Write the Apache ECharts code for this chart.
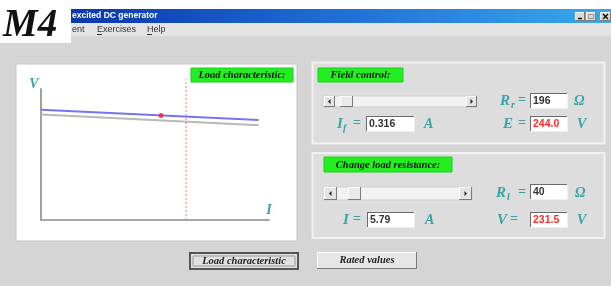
<!DOCTYPE html>
<html><head><meta charset="utf-8">
<script src="https://cdn.jsdelivr.net/npm/echarts@6/dist/echarts.min.js"></script>
<style>html,body{margin:0;padding:0;background:#fff}#c{width:611px;height:286px}</style>
</head><body><div id="c"></div>
<script>
// ---- data ----
const loadCurrent = [0, 10.5];          // I (A)
const loadVoltage = [244, 221.3];       // V (V) present load characteristic
const ratedCurrentPts = [0, 10.5];
const ratedVoltage = [233.5, 209.5];    // rated characteristic
const opPointI = [5.79];
const opPointV = [231.5];
const ratedCurrent = 7;
const ratedLineV = [0, 312];
const xMax = 11, yMax = 290;
const windowTitle = 'excited DC generator';
const menuItems = ['ent', 'Exercises', 'Help'];
const fieldValues = { Rr: '196', If: '0.316', E: '244.0' };
const loadValues = { Rl: '40', I: '5.79', V: '231.5' };
const buttonLabels = ['Load characteristic', 'Rated values'];

// ---- drawing helpers ----
const els = [];
const SER = '"Liberation Serif", "DejaVu Serif", serif';
const SANS = '"Liberation Sans", "DejaVu Sans", sans-serif';
const TEAL = '#37a4a6';
function rect(x, y, w, h, fill, stroke, lw, z) {
  els.push({type: 'rect', z: z == null ? -5 : z, shape: {x, y, width: w, height: h},
    style: {fill: fill, stroke: stroke || null, lineWidth: lw || 0}});
}
function line(x1, y1, x2, y2, stroke, lw, z) {
  els.push({type: 'line', z: z == null ? -4 : z, shape: {x1, y1, x2, y2}, style: {stroke, lineWidth: lw || 1}});
}
function txt(s, x, y, font, fill, align, z) {
  els.push({type: 'text', z: z == null ? 10 : z, x, y,
    style: {text: s, font, fill, align: align || 'left', verticalAlign: 'middle'}});
}
function raised(x, y, w, h, fill) {
  rect(x, y, w, h, fill || '#e4e4e4', null, 0, -3);
  line(x + 0.5, y + 0.5, x + w - 0.5, y + 0.5, '#ffffff', 1, -2);
  line(x + 0.5, y + 0.5, x + 0.5, y + h - 0.5, '#ffffff', 1, -2);
  line(x, y + h - 0.5, x + w, y + h - 0.5, '#7a7a7a', 1, -2);
  line(x + w - 0.5, y, x + w - 0.5, y + h, '#7a7a7a', 1, -2);
}
function tbox(x, y, w, h, val, color) {
  rect(x, y, w, h, '#ffffff', null, 0, -3);
  line(x, y + 0.5, x + w, y + 0.5, '#6a6a6a', 1, -2);
  line(x + 0.5, y, x + 0.5, y + h, '#6a6a6a', 1, -2);
  line(x, y + h - 0.5, x + w, y + h - 0.5, '#eeeeee', 1, -2);
  line(x + w - 0.5, y, x + w - 0.5, y + h, '#eeeeee', 1, -2);
  txt(val, x + 3, y + h / 2 + 0.5, 'bold 10.5px ' + SANS, color, 'left');
}
function tri(cx, cy, dir) {
  const s = 2.5;
  const pts = dir < 0 ? [[cx + 1, cy - s], [cx + 1, cy + s], [cx - 1.5, cy]] : [[cx - 1, cy - s], [cx - 1, cy + s], [cx + 1.5, cy]];
  els.push({type: 'polygon', z: 0, shape: {points: pts}, style: {fill: '#222'}});
}
function scrollbar(x, y, w, h, thumbX, thumbW) {
  rect(x, y, w, h, '#f2f2f2', '#cfcfcf', 1, -4);
  raised(x + 1, y, h, h);
  tri(x + 1 + h / 2, y + h / 2, -1);
  raised(x + w - h, y, h, h);
  tri(x + w - h / 2, y + h / 2, 1);
  raised(thumbX, y, thumbW, h, '#eaeaea');
}
function green(x, y, w, h, s) {
  rect(x, y, w, h, '#22ee22', '#1bd01b', 1, -3);
  txt(s, x + w / 2, y + h / 2 + 0.5, 'italic bold 10.5px ' + SER, '#111', 'center');
}
function sym(main, sub, x, y, subDx) {
  txt(main, x, y, 'italic bold 15px ' + SER, TEAL, 'left');
  if (sub) txt(sub, x + subDx, y + 4, 'italic bold 10px ' + SER, TEAL, 'left');
}

// ---- window chrome ----
rect(0, 36, 611, 250, '#d5d5d5', null, 0, -20);
rect(0, 0, 611, 9, '#ffffff', null, 0, -19);
els.push({type: 'rect', z: -18, shape: {x: 71, y: 9, width: 540, height: 14},
  style: {fill: {type: 'linear', x: 0, y: 0, x2: 1, y2: 0,
    colorStops: [{offset: 0, color: '#0a36ae'}, {offset: 0.5, color: '#1f6fd6'}, {offset: 1, color: '#39a9ee'}]}}});
rect(71, 23, 540, 13, '#e4e4e4', null, 0, -18);
rect(0, 0, 71, 43, '#ffffff', null, 0, -17);
txt('M4', 3, 26, 'italic bold 39px ' + SER, '#111111', 'left');
txt(windowTitle, 72, 16, 'bold 8.5px ' + SANS, '#ffffff', 'left');
txt(menuItems[0], 72, 30, '9px ' + SANS, '#333', 'left');
txt(menuItems[1], 97, 30, '9px ' + SANS, '#333', 'left');
txt(menuItems[2], 147, 30, '9px ' + SANS, '#333', 'left');
line(97, 34.5, 102, 34.5, '#333', 1, 0);
line(147, 34.5, 152, 34.5, '#333', 1, 0);
raised(575, 12, 10, 9, '#d8d8d8');
line(578, 18.5, 582, 18.5, '#111', 1.5, 0);
raised(586, 12, 10, 9, '#d8d8d8');
rect(588.5, 14.5, 5, 4, null, '#999', 1, 0);
raised(600, 12, 11, 9, '#d8d8d8');
line(603, 14, 608, 19, '#111', 1.5, 0);
line(608, 14, 603, 19, '#111', 1.5, 0);

// ---- plot panel ----
rect(16, 64, 281, 177, '#ffffff', '#c6c6c6', 1, -10);
green(191, 68, 102, 14, 'Load characteristic:');
txt('V', 34, 84, 'italic bold 14px ' + SER, TEAL, 'center');
txt('I', 269, 210, 'italic bold 14px ' + SER, TEAL, 'center');

// ---- field control panel ----
rect(312.5, 62.5, 292, 81, '#dddddd', '#f2f2f2', 2, -10);
green(318, 68, 85, 14, 'Field control:');
scrollbar(323, 96, 154, 11, 340, 13);
sym('R', 'r', 500, 101, 11); txt('=', 518, 100, 'bold 14px ' + SER, TEAL, 'left');
tbox(530, 93, 38, 16, fieldValues.Rr, '#333');
txt('Ω', 574, 101, 'italic bold 14px ' + SER, TEAL, 'left');
sym('I', 'f', 337, 124, 6); txt('=', 353, 123, 'bold 14px ' + SER, TEAL, 'left');
tbox(366, 116, 49, 16, fieldValues.If, '#333');
txt('A', 424, 124, 'italic bold 14px ' + SER, TEAL, 'left');
sym('E', null, 503, 124); txt('=', 518, 123, 'bold 14px ' + SER, TEAL, 'left');
tbox(530, 116, 38, 16, fieldValues.E, '#ff2a2a');
txt('V', 577, 124, 'italic bold 14px ' + SER, TEAL, 'left');

// ---- load resistance panel ----
rect(312.5, 153, 292, 85, '#dddddd', '#f2f2f2', 2, -10);
green(324, 157, 128, 15, 'Change load resistance:');
scrollbar(323, 187, 149, 13, 348, 13);
sym('R', 'l', 496, 193, 11); txt('=', 518, 192, 'bold 14px ' + SER, TEAL, 'left');
tbox(530, 184, 38, 16, loadValues.Rl, '#333');
txt('Ω', 575, 193, 'italic bold 14px ' + SER, TEAL, 'left');
sym('I', null, 343, 220); txt('=', 353, 219, 'bold 14px ' + SER, TEAL, 'left');
tbox(367, 212, 48, 16, loadValues.I, '#333');
txt('A', 425, 220, 'italic bold 14px ' + SER, TEAL, 'left');
sym('V', null, 497, 220); txt('=', 510, 219, 'bold 14px ' + SER, TEAL, 'left');
tbox(530, 212, 38, 16, loadValues.V, '#ff2a2a');
txt('V', 577, 220, 'italic bold 14px ' + SER, TEAL, 'left');

// ---- buttons ----
rect(190, 253, 108, 16, '#e2e2e2', '#555555', 2, -5);
rect(193, 256, 102, 10, null, '#9a9a9a', 1, -4);
txt(buttonLabels[0], 244, 261.5, 'italic bold 10.5px ' + SER, '#222', 'center');
raised(317, 252, 100, 17, '#e6e6e6');
txt(buttonLabels[1], 367, 260.5, 'italic bold 10.5px ' + SER, '#222', 'center');

// ---- chart ----
const chart = echarts.init(document.getElementById('c'));
const zip = (a, b) => a.map((v, i) => [v, b[i]]);
chart.setOption({
  animation: false,
  backgroundColor: 'transparent',
  graphic: {elements: els},
  grid: {left: 41, top: 89, width: 228, height: 131},
  xAxis: {type: 'value', min: 0, max: xMax, z: 3,
    axisLine: {show: true, lineStyle: {color: '#a6a6a6', width: 2}},
    axisTick: {show: false}, axisLabel: {show: false}, splitLine: {show: false}},
  yAxis: {type: 'value', min: 0, max: yMax, z: 3,
    axisLine: {show: true, lineStyle: {color: '#a0a0a0', width: 2}},
    axisTick: {show: false}, axisLabel: {show: false}, splitLine: {show: false}},
  series: [
    {type: 'line', name: 'rated', data: zip(ratedCurrentPts, ratedVoltage), symbol: 'none', z: 4,
      lineStyle: {color: '#b8b8b8', width: 2}},
    {type: 'line', name: 'load', data: zip(loadCurrent, loadVoltage), symbol: 'none', z: 5,
      lineStyle: {color: '#7474f2', width: 2}},
    {type: 'line', name: 'ratedI', data: ratedLineV.map(v => [ratedCurrent, v]), symbol: 'none', clip: false, z: 6,
      lineStyle: {color: '#ff7a7a', width: 1, type: [2, 2]}},
    {type: 'scatter', name: 'op', data: zip(opPointI, opPointV), symbolSize: 5, z: 7,
      itemStyle: {color: '#ff1a1a'}}
  ]
});
</script></body></html>
